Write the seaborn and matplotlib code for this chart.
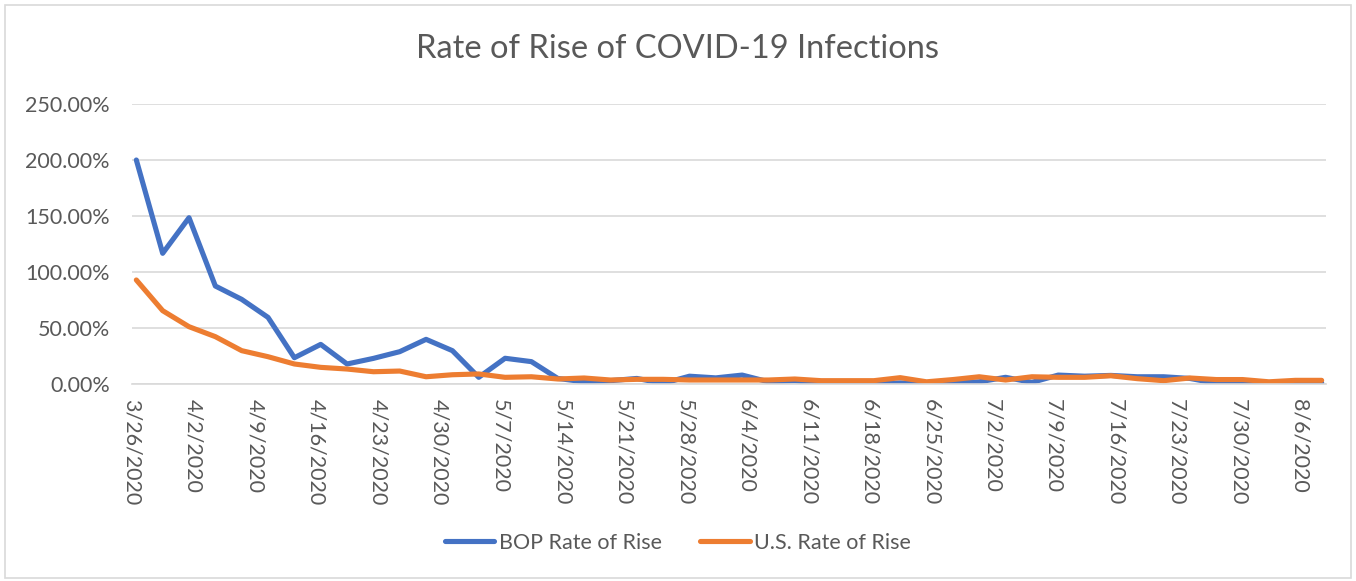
import matplotlib
matplotlib.use("Agg")
import numpy as np
import pandas as pd
import seaborn as sns
from matplotlib import pyplot as plt
from matplotlib.ticker import PercentFormatter
from matplotlib.patches import Rectangle

# data (percent), one point every 3 days starting 3/26/2020
DATES = pd.date_range("2020-03-26", periods=46, freq="3D")
BOP_RATE = [200, 116.7, 148.5, 87.5, 75.6, 59.5, 23.5, 35.4, 17.9, 22.9, 28.9, 39.9, 29.8,
            6, 23, 20, 5, 2, 3, 5, 0.6, 7, 5.5, 8, 2, 3, 0, 0, 0, 1, 0, 1, 2, 6, 1.5,
            8, 7, 7.7, 6.5, 6.5, 5, 0.6, 1.5, 0.6, 1.2, 1.2]
US_RATE = [92.9, 65.5, 51.2, 42.3, 29.8, 24.4, 17.9, 14.9, 13.4, 11.0, 11.6, 6.5, 8.3,
           9, 6, 6.5, 4.5, 5.4, 3.6, 4.2, 4.2, 3.6, 3.6, 3.6, 3.6, 4.5, 3, 3, 3, 5.7, 2,
           4, 6.5, 3.6, 6.5, 6, 6, 7.4, 4.8, 3, 5.4, 4, 4, 2, 3.3, 3.3]
SERIES = ["BOP Rate of Rise", "U.S. Rate of Rise"]
COLORS = ["#4472C4", "#ED7D31"]
TITLE = "Rate of Rise of COVID-19 Infections"

df = pd.DataFrame({"date": DATES, SERIES[0]: BOP_RATE, SERIES[1]: US_RATE})
long = df.melt(id_vars="date", var_name="series", value_name="rate")
long["rate"] = long["rate"] / 100.0
# excel date axis puts each point in the middle of its day slot
long["date"] = long["date"] + pd.Timedelta(hours=12)

sns.set_style("white")
plt.rcParams["font.family"] = ["Lato", "DejaVu Sans"]

fig = plt.figure(figsize=(13.56, 5.81), dpi=100)
ax = fig.add_axes([0.0973, 0.339, 0.8806, 0.482])

sns.lineplot(data=long, x="date", y="rate", hue="series", hue_order=SERIES,
             palette=COLORS, linewidth=3.7, ax=ax, legend=True)
for ln in ax.lines:
    ln.set_solid_capstyle("round")
    ln.set_solid_joinstyle("round")

grey = "#595959"
fs = 15.5
ax.set_ylim(0, 2.5)
ax.set_yticks(np.arange(0, 2.51, 0.5))
ax.yaxis.set_major_formatter(PercentFormatter(1.0, decimals=2))
ax.yaxis.grid(True, color="#D9D9D9", linewidth=1.2)
ax.tick_params(axis="y", length=0, pad=16, labelsize=fs, labelcolor=grey)

start = DATES[0]
ax.set_xlim(start, start + pd.Timedelta(days=136))
ticks = pd.date_range(start, periods=20, freq="7D")
ax.set_xticks(ticks)
ax.set_xticklabels([f"{d.month}/{d.day}/{d.year}" for d in ticks], rotation=270)
ax.tick_params(axis="x", length=5, width=1, color="#D9D9D9", pad=6, labelsize=fs, labelcolor=grey)

for side in ["top", "right", "left"]:
    ax.spines[side].set_visible(False)
ax.spines["bottom"].set_color("#D9D9D9")
ax.spines["bottom"].set_linewidth(1.2)
ax.set_xlabel("")
ax.set_ylabel("")

fig.text(0.5, 0.915, TITLE, ha="center", va="center", fontsize=23.5, color=grey)

handles, labels = ax.get_legend_handles_labels()
ax.legend_.remove()
leg = fig.legend(handles, labels, loc="center", bbox_to_anchor=(0.5, 0.066), ncol=2,
                 frameon=False, fontsize=fs, handlelength=2.3, handletextpad=0.2,
                 columnspacing=1.8, labelcolor=grey)
for h in leg.legend_handles:
    h.set_linewidth(3.7)
    h.set_solid_capstyle("round")

fig.patches.append(Rectangle((0.004, 0.006), 0.992, 0.986, transform=fig.transFigure,
                             fill=False, edgecolor="#D9D9D9", linewidth=1.2))

fig.savefig("out.png", dpi=100)
